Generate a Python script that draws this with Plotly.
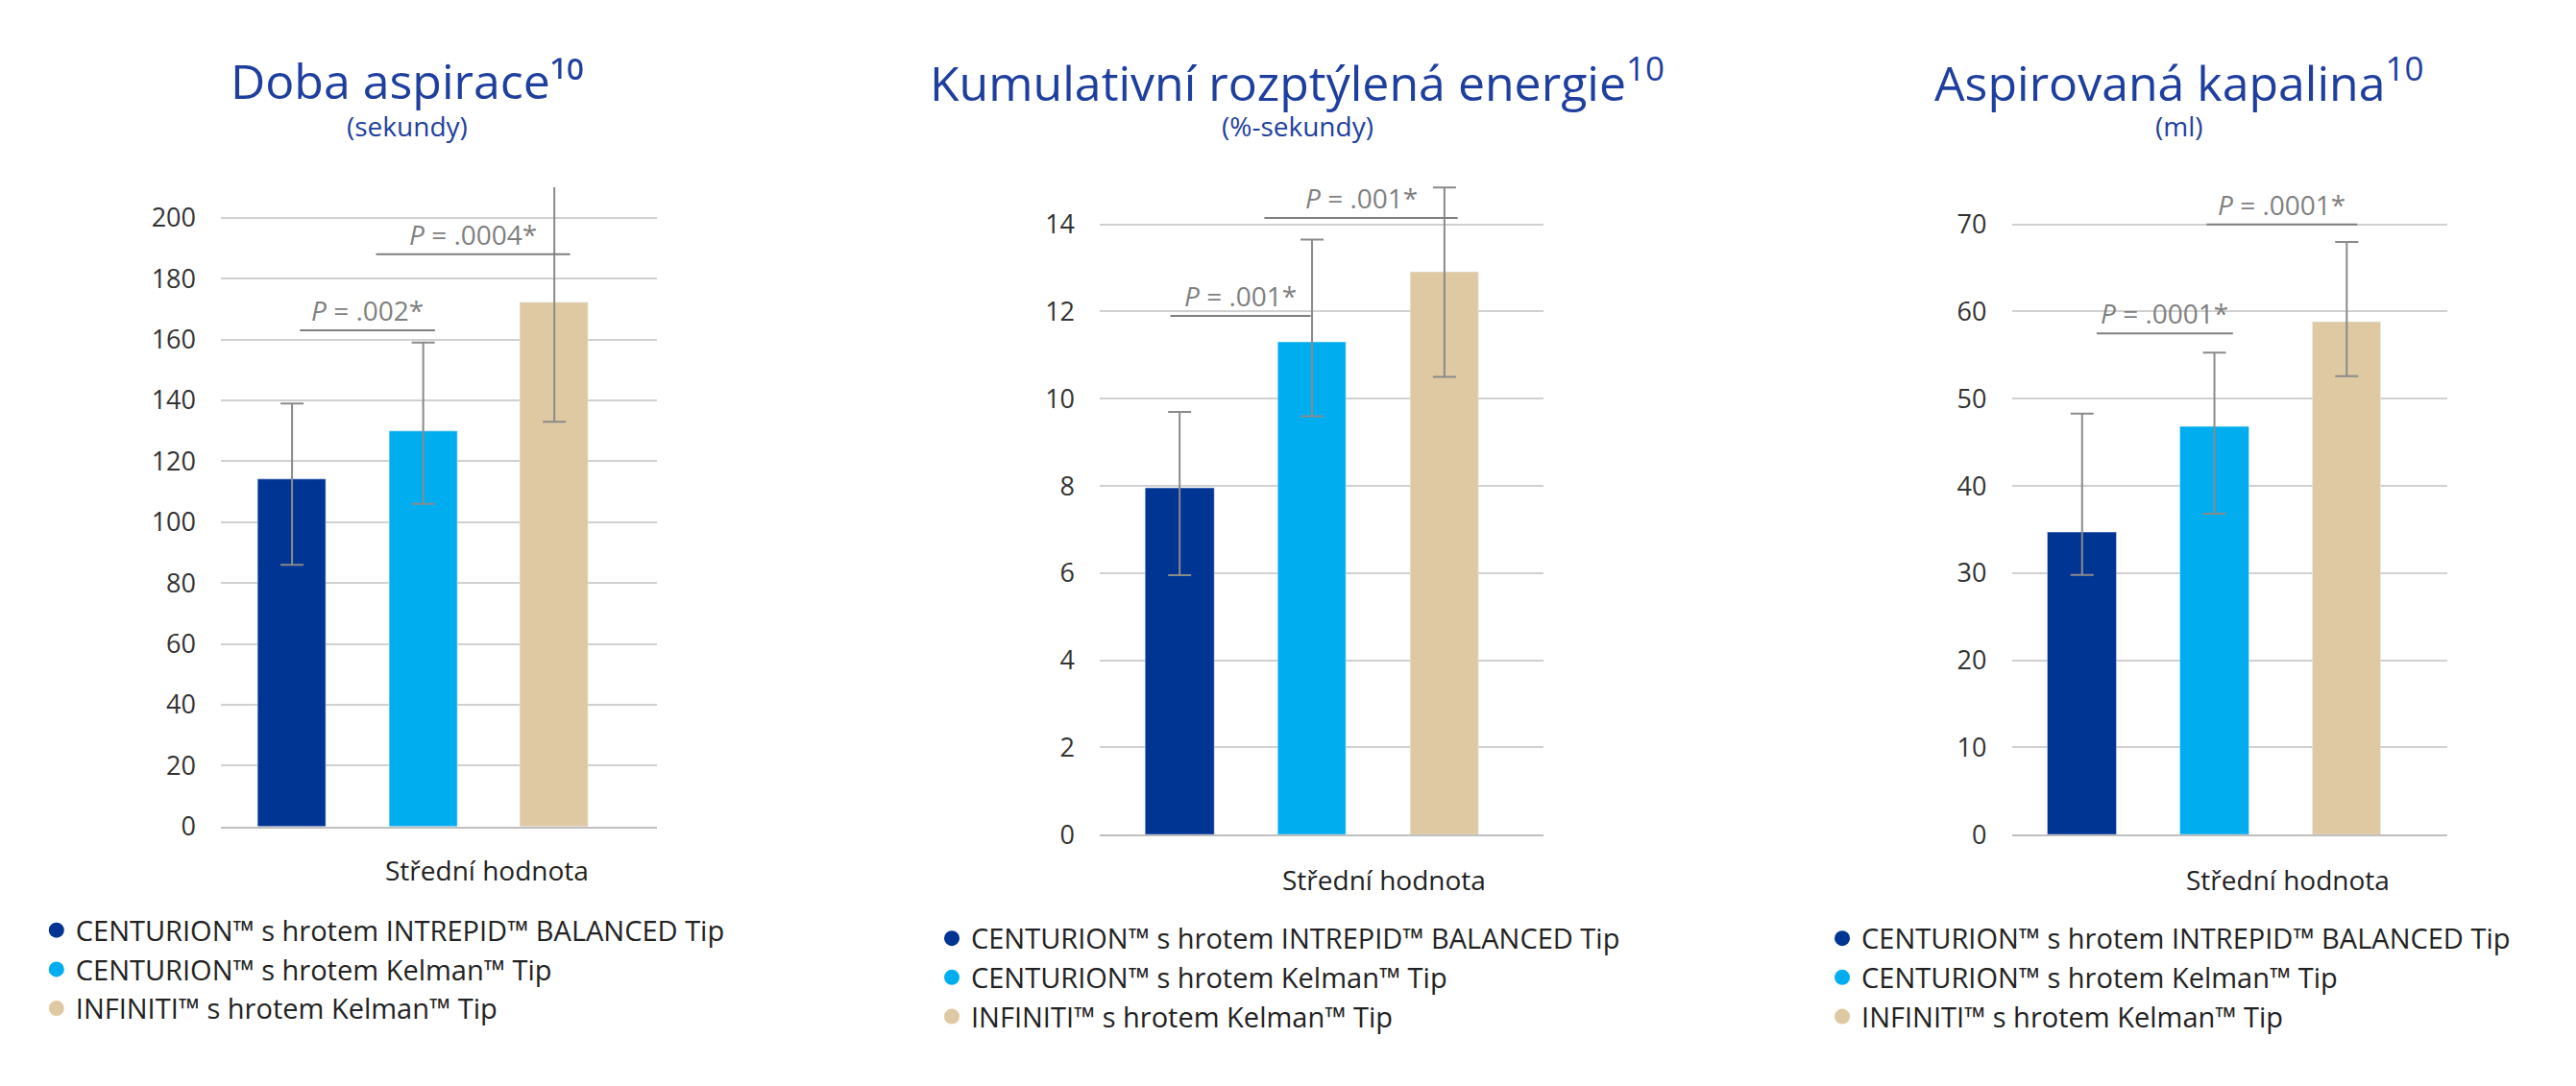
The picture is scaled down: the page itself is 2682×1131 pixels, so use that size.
import plotly.graph_objects as go

groups = ["CENTURION™ s hrotem INTREPID™ BALANCED Tip",
          "CENTURION™ s hrotem Kelman™ Tip",
          "INFINITI™ s hrotem Kelman™ Tip"]
colors = ["#003594", "#00aeef", "#dfc9a3"]

# chart values: mean, upper, lower
aspir_mean = [114, 130, 172]
aspir_hi = [139, 159, 212]
aspir_lo = [86, 106, 133]
energy_mean = [7.95, 11.3, 12.9]
energy_hi = [9.7, 13.65, 14.85]
energy_lo = [5.95, 9.6, 10.5]
fluid_mean = [34.7, 46.8, 58.8]
fluid_hi = [48.3, 55.3, 68.0]
fluid_lo = [29.8, 36.8, 52.6]

# p-value brackets: (x0, x1, y, label)
aspir_p = [(0.06, 1.09, 163, "<i>P</i> = .002*"), (0.64, 2.12, 188, "<i>P</i> = .0004*")]
energy_p = [(-0.07, 0.99, 11.9, "<i>P</i> = .001*"), (0.64, 2.1, 14.15, "<i>P</i> = .001*")]
fluid_p = [(0.11, 1.14, 57.5, "<i>P</i> = .0001*"), (0.94, 2.08, 70, "<i>P</i> = .0001*")]

W, H = 1568, 661
def px_x(v): return v / W
def px_y(v): return 1 - v / H

panels = [
    dict(mean=aspir_mean, hi=aspir_hi, lo=aspir_lo, p=aspir_p, xd=(130, 395), yd=(506, 111),
         yr=210, dt=20, xr=[-0.54, 2.78], title="Doba aspirace¹⁰", sub="(sekundy)", tx=243,
         lab=(292, 533), leg=(18, 555)),
    dict(mean=energy_mean, hi=energy_hi, lo=energy_lo, p=energy_p, xd=(665, 935), yd=(511, 107),
         yr=15, dt=2, xr=[-0.6, 2.75], title="Kumulativní rozptýlená energie<sup>10</sup>",
         sub="(%-sekundy)", tx=785, lab=(838, 539), leg=(563, 560)),
    dict(mean=fluid_mean, hi=fluid_hi, lo=fluid_lo, p=fluid_p, xd=(1220, 1485), yd=(511, 107),
         yr=75, dt=10, xr=[-0.53, 2.76], title="Aspirovaná kapalina<sup>10</sup>", sub="(ml)",
         tx=1322, lab=(1388, 539), leg=(1105, 560)),
]

fig = go.Figure()
annotations = []
shapes = []
layout = {}
for k, pnl in enumerate(panels):
    n = "" if k == 0 else str(k + 1)
    xa, ya = "x" + n, "y" + n
    legname = "legend" + n
    for i in range(3):
        fig.add_trace(go.Bar(
            x=[i], y=[pnl["mean"][i]], width=0.52, marker_color=colors[i], showlegend=False,
            xaxis=xa, yaxis=ya,
            error_y=dict(type="data", symmetric=False,
                         array=[pnl["hi"][i] - pnl["mean"][i]],
                         arrayminus=[pnl["mean"][i] - pnl["lo"][i]],
                         color="#8a8a8a", thickness=2, width=12)))
        fig.add_trace(go.Scatter(
            x=[None], y=[None], mode="markers", name=groups[i],
            marker=dict(color=colors[i], size=30, symbol="circle"),
            xaxis=xa, yaxis=ya, legend=legname))
    layout["xaxis" + n] = dict(domain=[px_x(pnl["xd"][0]), px_x(pnl["xd"][1])], range=pnl["xr"],
                               showticklabels=False, showgrid=False, zeroline=False,
                               showline=True, linecolor="#bfbfbf", linewidth=2, anchor=ya)
    layout["yaxis" + n] = dict(domain=[px_y(pnl["yd"][0]), px_y(pnl["yd"][1])],
                               range=[0, pnl["yr"]], dtick=pnl["dt"], showgrid=True,
                               gridcolor="#d0d0d0", gridwidth=2, zeroline=False,
                               tickfont=dict(size=27, color="#333"), ticklen=20,
                               tickcolor="rgba(0,0,0,0)", ticks="outside", anchor=xa)
    layout[legname] = dict(x=px_x(pnl["leg"][0]), y=px_y(pnl["leg"][1]), xanchor="left",
                           yanchor="top", font=dict(size=29, color="#222"),
                           bgcolor="rgba(0,0,0,0)", tracegroupgap=6, itemsizing="trace")
    annotations.append(dict(text=pnl["title"], x=px_x(pnl["tx"]), y=px_y(45), xref="paper",
                            yref="paper", xanchor="center", yanchor="middle", showarrow=False,
                            font=dict(size=50, color="#1f3f9f")))
    annotations.append(dict(text=pnl["sub"], x=px_x(pnl["tx"]), y=px_y(73), xref="paper",
                            yref="paper", xanchor="center", yanchor="middle", showarrow=False,
                            font=dict(size=28, color="#1f3f9f")))
    annotations.append(dict(text="Střední hodnota", x=px_x(pnl["lab"][0]), y=px_y(pnl["lab"][1]),
                            xref="paper", yref="paper", xanchor="center", yanchor="middle",
                            showarrow=False, font=dict(size=28, color="#222")))
    for x0, x1, yv, txt in pnl["p"]:
        shapes.append(dict(type="line", x0=x0, x1=x1, y0=yv, y1=yv, xref=xa, yref=ya,
                           line=dict(color="#7f7f7f", width=2)))
        annotations.append(dict(text=txt, x=(x0 + x1) / 2, y=yv, xref=xa, yref=ya,
                                xanchor="center", yanchor="bottom", showarrow=False,
                                font=dict(size=28, color="#7f7f7f")))

fig.update_layout(**layout)
fig.update_layout(width=2682, height=1131, margin=dict(l=0, r=0, t=0, b=0),
                  paper_bgcolor="white", plot_bgcolor="white",
                  font=dict(family="Open Sans"), annotations=annotations, shapes=shapes,
                  bargap=0)
fig.write_html("out.html")
